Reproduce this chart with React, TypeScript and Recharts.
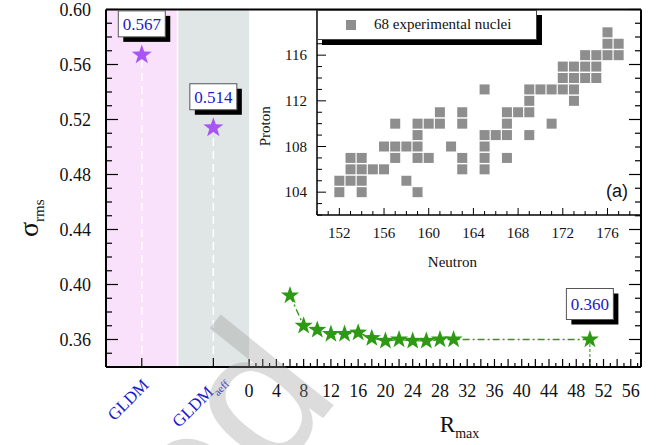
import React from 'react'
import { ComposedChart, ScatterChart, Scatter, XAxis, YAxis, ReferenceArea, ReferenceLine, Legend, Label } from 'recharts'

const serif = '"Liberation Serif", "Times New Roman", serif'
const blue = '#1a1acc'
const green = '#2e9a14'
const purple = '#a855f7'

// left part of the x axis: two model slots before R_max = 0
const modelNames = ['GLDM', 'GLDMaeff']
const modelSlots = [-15.75, -5.25]
const modelSigma = [0.567, 0.514]
const slotEdges = [-21, -10.5, 0]
const xDomain = [-21, 57.5]

// sigma_rms vs R_max
const rmaxValues = [6, 8, 10, 12, 14, 16, 18, 20, 22, 24, 26, 28, 30, 50]
const rmaxSigma = [0.392, 0.37, 0.367, 0.364, 0.364, 0.365, 0.361, 0.359, 0.36, 0.359, 0.359, 0.36, 0.36, 0.36]

const rmaxTicks = Array.from({ length: 58 }, (_, i) => i)
const rmaxLabels = [0, 4, 8, 12, 16, 20, 24, 28, 32, 36, 40, 44, 48, 52, 56]
const sigmaTicks = Array.from({ length: 27 }, (_, i) => (34 + i) / 100)
const sigmaLabels = [0.36, 0.4, 0.44, 0.48, 0.52, 0.56, 0.6]

// inset: 68 experimental nuclei (proton rows, neutron numbers per row)
const protonRows = [104, 105, 106, 107, 108, 109, 110, 111, 112, 113, 114, 115, 116, 117, 118]
const neutronsByRow = [
  [152, 154, 159],
  [152, 153, 154, 158],
  [153, 154, 155, 156, 163, 165],
  [153, 154, 157, 159, 160, 163, 165, 167],
  [156, 157, 158, 159, 162, 165],
  [159, 165, 166, 167, 169],
  [157, 159, 160, 161, 163, 167, 171],
  [161, 163, 167, 168, 169],
  [169, 173],
  [165, 169, 170, 171, 172, 173],
  [172, 173, 174, 175],
  [172, 173, 174, 175],
  [174, 175, 176, 177],
  [176, 177],
  [176],
]
const neutronTicks = Array.from({ length: 30 }, (_, i) => 150 + i)
const neutronLabels = [152, 156, 160, 164, 168, 172, 176]
const protonTicks = Array.from({ length: 19 }, (_, i) => 102 + i)
const protonLabels = [104, 108, 112, 116]

const modelData = modelSlots.map((x, i) => ({ x, y: modelSigma[i], name: modelNames[i] }))
const rmaxData = rmaxValues.map((x, i) => ({
  x,
  y: rmaxSigma[i],
  label: i === rmaxValues.length - 1 ? rmaxSigma[i].toFixed(3) : undefined,
}))
const nuclei = protonRows.flatMap((z, i) => neutronsByRow[i].map((n) => ({ n, z })))

function Star({ cx, cy, r, fill }: any) {
  const pts: string[] = []
  for (let k = 0; k < 10; k++) {
    const rad = k % 2 === 0 ? r : r * 0.4
    const a = -Math.PI / 2 + (k * Math.PI) / 5
    pts.push(`${cx + rad * Math.cos(a)},${cy + rad * Math.sin(a)}`)
  }
  return <polygon points={pts.join(' ')} fill={fill} />
}

function ValueBox({ cx, top, h, text }: any) {
  const w = 47
  return (
    <g>
      <rect x={cx - w / 2 + 5} y={top + 5} width={w} height={h} fill="#000" />
      <rect x={cx - w / 2} y={top} width={w} height={h} fill="#fff" stroke="#555" strokeWidth={1} />
      <text x={cx} y={top + h / 2 + 6} textAnchor="middle" fontFamily={serif} fontSize={17} fill={blue}>
        {text}
      </text>
    </g>
  )
}

const ModelShape = (p: any) => (
  <g>
    <Star cx={p.cx} cy={p.cy} r={10.5} fill={purple} />
    <ValueBox cx={p.cx} top={p.cy - 44} h={26} text={p.payload.y.toFixed(3)} />
  </g>
)

const RmaxShape = (p: any) => (
  <g>
    <Star cx={p.cx} cy={p.cy} r={9.5} fill={green} />
    {p.payload.label && <ValueBox cx={p.cx} top={p.cy - 51} h={31} text={p.payload.label} />}
  </g>
)

const BottomTick = (props: any) => {
  const { x, y, payload } = props
  const v = payload.value
  const mi = modelSlots.indexOf(v)
  if (mi >= 0) {
    return (
      <g>
        <line x1={x} x2={x} y1={y} y2={y - 9} stroke="#000" strokeWidth={1.2} />
        {mi === 0 ? (
          <text transform={`translate(${x + 8},${y + 19}) rotate(-45)`} textAnchor="end" fontFamily={serif} fontSize={17} fill={blue}>
            GLDM
          </text>
        ) : (
          <text transform={`translate(${x + 13},${y + 14}) rotate(-45)`} textAnchor="end" fontFamily={serif} fontSize={17} fill={blue}>
            GLDM<tspan fontSize={11} dy={5}>aeff</tspan>
          </text>
        )}
      </g>
    )
  }
  const len = v % 2 === 0 ? 8 : 4
  return (
    <g>
      <line x1={x} x2={x} y1={y} y2={y - len} stroke="#000" strokeWidth={1.2} />
      {rmaxLabels.includes(v) && (
        <text x={x} y={y + 30} textAnchor="middle" fontFamily={serif} fontSize={18} fill="#111">
          {v}
        </text>
      )}
    </g>
  )
}

const TopTick = (props: any) => {
  const { x, y, payload } = props
  const v = payload.value
  const len = modelSlots.includes(v) ? 9 : v % 2 === 0 ? 8 : 4
  return <line x1={x} x2={x} y1={y} y2={y + len} stroke="#000" strokeWidth={1.2} />
}

const LeftTick = (props: any) => {
  const { x, y, payload } = props
  const v = payload.value
  const major = sigmaLabels.includes(v)
  return (
    <g>
      <line x1={x} x2={x + (major ? 12 : 6)} y1={y} y2={y} stroke="#000" strokeWidth={1.2} />
      {major && (
        <text x={x - 15} y={y + 6} textAnchor="end" fontFamily={serif} fontSize={18} fill="#111">
          {v.toFixed(2)}
        </text>
      )}
    </g>
  )
}

const RightTick = (props: any) => {
  const { x, y, payload } = props
  const major = sigmaLabels.includes(payload.value)
  return <line x1={x} x2={x - (major ? 12 : 6)} y1={y} y2={y} stroke="#000" strokeWidth={1.2} />
}

const InsetBottomTick = (props: any) => {
  const { x, y, payload } = props
  const v = payload.value
  const major = neutronLabels.includes(v)
  return (
    <g>
      <line x1={x} x2={x} y1={y} y2={y - (major ? 7 : 4)} stroke="#000" strokeWidth={1} />
      {major && (
        <text x={x} y={y + 23} textAnchor="middle" fontFamily={serif} fontSize={15} fill="#111">
          {v}
        </text>
      )}
    </g>
  )
}

const InsetLeftTick = (props: any) => {
  const { x, y, payload } = props
  const v = payload.value
  const major = protonLabels.includes(v)
  return (
    <g>
      <line x1={x} x2={x + (major ? 9 : 5)} y1={y} y2={y} stroke="#000" strokeWidth={1} />
      {major && (
        <text x={x - 10} y={y + 5} textAnchor="end" fontFamily={serif} fontSize={15} fill="#111">
          {v}
        </text>
      )}
    </g>
  )
}

const NucleusSquare = (p: any) => <rect x={p.cx - 5} y={p.cy - 5} width={10} height={10} fill="#8e8e8e" />

const InsetLegend = () => (
  <div
    style={{
      width: 220,
      height: 30,
      boxSizing: 'border-box',
      border: '1px solid #444',
      background: '#fff',
      boxShadow: '5px 5px 0 #000',
      display: 'flex',
      alignItems: 'center',
      fontFamily: serif,
      fontSize: 15,
      color: '#111',
    }}>
    <span style={{ width: 10, height: 10, background: '#8e8e8e', marginLeft: 28, marginRight: 18 }} />
    68 experimental nuclei
  </div>
)

export default function App() {
  return (
    <div style={{ position: 'absolute', left: 0, top: 0, width: 664, height: 445, background: '#fff' }}>
      <ComposedChart width={664} height={445} margin={{ top: 8.5, right: 22, bottom: 77, left: 105 }} style={{ position: 'absolute', left: 0, top: 0 }}>
        <XAxis
          type="number"
          dataKey="x"
          domain={xDomain}
          ticks={[...modelSlots, ...rmaxTicks]}
          interval={0}
          height={1}
          tickSize={0}
          tickMargin={0}
          tickLine={false}
          tick={BottomTick}
          allowDataOverflow
          axisLine={{ stroke: '#000', strokeWidth: 2 }}>
          <Label
            content={(p: any) => {
              const { x, y, width } = p.viewBox
              return (
                <text x={x + width * 0.624} y={y + 65} fontFamily={serif} fontSize={23} fill="#111">
                  R<tspan fontSize={14} dy={6}>max</tspan>
                </text>
              )
            }}
          />
        </XAxis>
        <XAxis
          xAxisId="top"
          orientation="top"
          type="number"
          domain={xDomain}
          ticks={[...modelSlots, ...rmaxTicks]}
          interval={0}
          height={1}
          tickSize={0}
          tickMargin={0}
          tickLine={false}
          tick={TopTick}
          allowDataOverflow
          axisLine={{ stroke: '#000', strokeWidth: 2 }}
        />
        <YAxis
          type="number"
          dataKey="y"
          domain={[0.34, 0.6]}
          ticks={sigmaTicks}
          interval={0}
          width={1}
          tickSize={0}
          tickMargin={0}
          tickLine={false}
          tick={LeftTick}
          allowDataOverflow
          axisLine={{ stroke: '#000', strokeWidth: 2 }}>
          <Label
            content={(p: any) => {
              const { x, y, height } = p.viewBox
              return (
                <text transform={`translate(${x - 67},${y + height / 2 + 30}) rotate(-90)`} textAnchor="middle" fontFamily={serif} fontSize={28} fill="#111">
                  σ<tspan fontSize={15} dy={6}>rms</tspan>
                </text>
              )
            }}
          />
        </YAxis>
        <YAxis
          yAxisId="right"
          orientation="right"
          type="number"
          domain={[0.34, 0.6]}
          ticks={sigmaTicks}
          interval={0}
          width={1}
          tickSize={0}
          tickMargin={0}
          tickLine={false}
          tick={RightTick}
          allowDataOverflow
          axisLine={{ stroke: '#000', strokeWidth: 2 }}
        />
        <ReferenceArea x1={slotEdges[0]} x2={slotEdges[1]} fill="#fae1fb" fillOpacity={1} stroke="none" />
        <ReferenceArea x1={slotEdges[1]} x2={slotEdges[2]} fill="#dfe6e5" fillOpacity={1} stroke="none" />
        <ReferenceLine x={slotEdges[1]} stroke="#fff" strokeWidth={1.5} />
        {modelData.map((d) => (
          <ReferenceLine
            key={d.name}
            segment={[{ x: d.x, y: 0.34 }, { x: d.x, y: d.y }]}
            stroke="#fff"
            strokeWidth={1.5}
            strokeDasharray="8 5"
          />
        ))}
        <ReferenceLine
          segment={[{ x: rmaxValues[rmaxValues.length - 1], y: 0.34 }, { x: rmaxValues[rmaxValues.length - 1], y: rmaxSigma[rmaxSigma.length - 1] }]}
          stroke={green}
          strokeWidth={1}
          strokeDasharray="3 2"
        />
        <Scatter
          data={rmaxData}
          line={{ stroke: green, strokeWidth: 1.4, strokeDasharray: '7 3 2 3' }}
          lineType="joint"
          shape={RmaxShape}
          isAnimationActive={false}
        />
        <Scatter data={modelData} shape={ModelShape} isAnimationActive={false} />
      </ComposedChart>

      <ScatterChart width={664} height={445} margin={{ top: 9.5, right: 23, bottom: 229, left: 316 }} style={{ position: 'absolute', left: 0, top: 0 }}>
        <XAxis
          type="number"
          dataKey="n"
          domain={[150, 179]}
          ticks={neutronTicks}
          interval={0}
          height={1}
          tickSize={0}
          tickMargin={0}
          tickLine={false}
          tick={InsetBottomTick}
          axisLine={{ stroke: '#000', strokeWidth: 1.5 }}>
          <Label
            content={(p: any) => {
              const { x, y, width } = p.viewBox
              return (
                <g>
                  <text x={x + width * 0.418} y={y + 52} textAnchor="middle" fontFamily={serif} fontSize={15} fill="#111">
                    Neutron
                  </text>
                  <text x={x + width - 13} y={y - 18} textAnchor="end" fontFamily='"Liberation Sans", Arial, sans-serif' fontSize={18} fill="#111">
                    (a)
                  </text>
                </g>
              )
            }}
          />
        </XAxis>
        <YAxis
          type="number"
          dataKey="z"
          domain={[102, 120]}
          ticks={protonTicks}
          interval={0}
          width={1}
          tickSize={0}
          tickMargin={0}
          tickLine={false}
          tick={InsetLeftTick}
          axisLine={{ stroke: '#000', strokeWidth: 1.5 }}>
          <Label
            content={(p: any) => {
              const { x, y, height } = p.viewBox
              return (
                <text transform={`translate(${x - 46},${y + height / 2 + 14}) rotate(-90)`} textAnchor="middle" fontFamily={serif} fontSize={15} fill="#111">
                  Proton
                </text>
              )
            }}
          />
        </YAxis>
        <Legend
          layout="horizontal"
          verticalAlign="middle"
          align="center"
          content={InsetLegend}
          wrapperStyle={{ left: 317, top: 9.5, width: 226, height: 36 }}
        />
        <Scatter name="68 experimental nuclei" data={nuclei} shape={NucleusSquare} isAnimationActive={false} />
      </ScatterChart>

      <svg width={664} height={445} style={{ position: 'absolute', left: 0, top: 0, pointerEvents: 'none' }}>
        <text
          transform="translate(342,395) rotate(-51)"
          textAnchor="end"
          fontFamily='"Liberation Sans", Arial, sans-serif'
          fontSize={200}
          fill="rgba(150,150,150,0.33)">
          ed
        </text>
      </svg>
    </div>
  )
}
